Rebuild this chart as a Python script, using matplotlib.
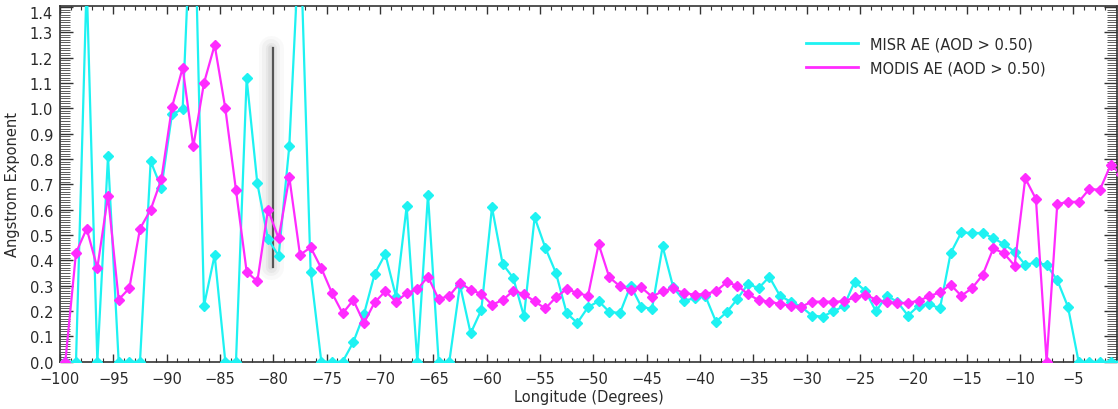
import numpy as np
import matplotlib
matplotlib.use("Agg")
import matplotlib.pyplot as plt
import matplotlib.transforms as mtransforms
from matplotlib.ticker import MultipleLocator, FormatStrFormatter
from matplotlib.lines import Line2D

# ---- data (bin-centre longitudes) ----
longitude = [-99.5, -98.5, -97.5, -96.5, -95.5, -94.5, -93.5, -92.5, -91.5, -90.5,
             -89.5, -88.5, -87.5, -86.5, -85.5, -84.5, -83.5, -82.5, -81.5, -80.5,
             -79.5, -78.5, -77.5, -76.5, -75.5, -74.5, -73.5, -72.5, -71.5, -70.5,
             -69.5, -68.5, -67.5, -66.5, -65.5, -64.5, -63.5, -62.5, -61.5, -60.5,
             -59.5, -58.5, -57.5, -56.5, -55.5, -54.5, -53.5, -52.5, -51.5, -50.5,
             -49.5, -48.5, -47.5, -46.5, -45.5, -44.5, -43.5, -42.5, -41.5, -40.5,
             -39.5, -38.5, -37.5, -36.5, -35.5, -34.5, -33.5, -32.5, -31.5, -30.5,
             -29.5, -28.5, -27.5, -26.5, -25.5, -24.5, -23.5, -22.5, -21.5, -20.5,
             -19.5, -18.5, -17.5, -16.5, -15.5, -14.5, -13.5, -12.5, -11.5, -10.5,
             -9.5, -8.5, -7.5, -6.5, -5.5, -4.5, -3.5, -2.5, -1.5, -0.5]

misr_ae = [0.0, 0.0, 1.5, 0.0, 0.81, 0.0, 0.0, 0.0, 0.791, 0.686,
           0.977, 0.997, 2.0, 0.221, 0.421, 0.0, 0.0, 1.118, 0.704, 0.484,
           0.418, 0.852, 1.72, 0.355, 0.0, 0.0, 0.0, 0.077, 0.188, 0.346,
           0.425, 0.257, 0.613, 0.0, 0.659, 0.0, 0.0, 0.303, 0.112, 0.204,
           0.609, 0.386, 0.33, 0.179, 0.57, 0.45, 0.35, 0.192, 0.153, 0.215,
           0.239, 0.197, 0.192, 0.30, 0.217, 0.208, 0.455, 0.293, 0.241, 0.25,
           0.26, 0.158, 0.195, 0.247, 0.307, 0.29, 0.335, 0.26, 0.237, 0.217,
           0.182, 0.178, 0.199, 0.219, 0.316, 0.28, 0.199, 0.26, 0.237, 0.182,
           0.221, 0.228, 0.21, 0.428, 0.51, 0.508, 0.508, 0.488, 0.464, 0.434,
           0.382, 0.392, 0.382, 0.322, 0.217, 0.0, 0.0, 0.0, 0.0, 0.0]

modis_ae = [0.0, 0.43, 0.525, 0.37, 0.655, 0.245, 0.29, 0.525, 0.60, 0.72,
            1.005, 1.16, 0.85, 1.10, 1.25, 1.00, 0.677, 0.355, 0.317, 0.60,
            0.487, 0.728, 0.422, 0.451, 0.369, 0.271, 0.191, 0.243, 0.153, 0.234,
            0.278, 0.237, 0.27, 0.286, 0.335, 0.247, 0.26, 0.311, 0.284, 0.267,
            0.225, 0.243, 0.28, 0.267, 0.238, 0.21, 0.254, 0.287, 0.271, 0.26,
            0.464, 0.333, 0.298, 0.283, 0.293, 0.257, 0.278, 0.29, 0.27, 0.265,
            0.267, 0.278, 0.313, 0.30, 0.267, 0.243, 0.237, 0.228, 0.221, 0.217,
            0.237, 0.237, 0.237, 0.238, 0.254, 0.265, 0.245, 0.234, 0.232, 0.232,
            0.241, 0.258, 0.274, 0.304, 0.26, 0.29, 0.342, 0.447, 0.428, 0.379,
            0.724, 0.642, 0.0, 0.622, 0.631, 0.631, 0.681, 0.679, 0.776, 0.74]

marker_lon = -80.0
marker_range = [0.375, 1.24]

labels = ["MISR AE (AOD > 0.50)", "MODIS AE (AOD > 0.50)"]
x_ticks = [-100, -95, -90, -85, -80, -75, -70, -65, -60, -55, -50,
           -45, -40, -35, -30, -25, -20, -15, -10, -5]

# ---- figure ----
W, H = 1118, 410
fig = plt.figure(figsize=(W / 100, H / 100), dpi=100)
L, R, B, T = 60, 1117, 362.7, 7
ax = fig.add_axes([L / W, 1 - B / H, (R - L) / W, (B - T) / H])

CYAN = "#1EF2F2"
MAG = "#FF2BFF"
TXT = "#2a2a2a"

# shadowed vertical bar
for lw, a in [(18, 0.04), (13, 0.06), (8, 0.08), (4, 0.10)]:
    ax.plot([marker_lon - 0.2, marker_lon - 0.2], marker_range, color="#7a7a7a",
            lw=lw, alpha=a, solid_capstyle="round", zorder=1)
ax.plot([marker_lon, marker_lon], marker_range, color="#555555", lw=1.6, zorder=2)

ax.plot(longitude, misr_ae, color=CYAN, lw=1.6, marker="D", ms=5.4,
        mec=CYAN, mfc=CYAN, zorder=3)
ax.plot(longitude, modis_ae, color=MAG, lw=1.6, marker="D", ms=5.4,
        mec=MAG, mfc=MAG, zorder=4)

ax.set_xlim(-100, -0.9)
ax.set_ylim(0, 1.404)
ax.set_xticks(x_ticks)
ax.xaxis.set_minor_locator(MultipleLocator(1))
ax.yaxis.set_major_locator(MultipleLocator(0.1))
ax.yaxis.set_minor_locator(MultipleLocator(0.01))
ax.yaxis.set_major_formatter(FormatStrFormatter("%.1f"))

ax.tick_params(axis="x", which="major", direction="in", length=6, width=1.0,
               top=True, bottom=True, labelsize=10.5, labelcolor=TXT, pad=7, color="#333333")
ax.tick_params(axis="x", which="minor", direction="in", length=3, width=0.8,
               top=True, bottom=True, color="#333333")
ax.tick_params(axis="y", which="major", direction="in", length=9.5, width=1.0,
               left=True, right=True, labelsize=10.5, labelcolor=TXT, pad=5, color="#333333")
ax.tick_params(axis="y", which="minor", direction="in", length=7, width=0.6,
               left=True, right=True, color="#444444")

for sp in ax.spines.values():
    sp.set_color("#333333")
    sp.set_linewidth(1.2)

ax.set_xlabel("Longitude (Degrees)", fontsize=10.5, color=TXT, labelpad=2)
ax.set_ylabel("Angstrom Exponent", fontsize=10.5, color=TXT, labelpad=7)

# nudge the topmost y label down slightly (as in the reference)
fig.canvas.draw()
for tk in ax.yaxis.get_major_ticks():
    if abs(tk.get_loc() - 1.4) < 1e-6:
        off = mtransforms.ScaledTranslation(0, -5 / 100, fig.dpi_scale_trans)
        tk.label1.set_transform(tk.label1.get_transform() + off)

handles = [Line2D([], [], color=CYAN, lw=2), Line2D([], [], color=MAG, lw=2)]
ax.legend(handles, labels, loc="upper left", frameon=False, fontsize=10.5,
          labelcolor=TXT, handlelength=3.6, handletextpad=0.8, labelspacing=0.65,
          borderpad=0, borderaxespad=0,
          bbox_to_anchor=(806 / W, 1 - 37 / H), bbox_transform=fig.transFigure)

fig.savefig("out.png", dpi=100)
